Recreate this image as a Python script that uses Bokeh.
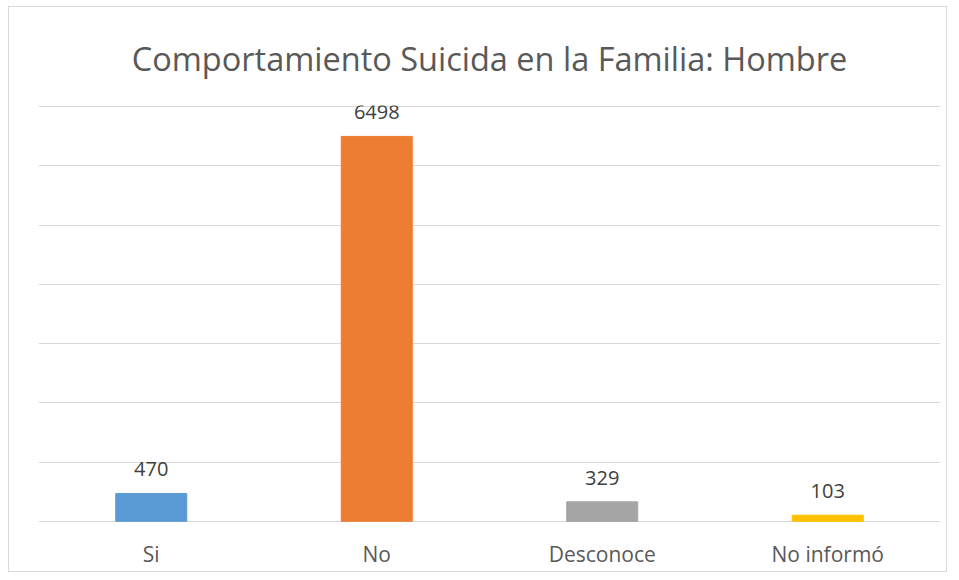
from bokeh.plotting import figure
from bokeh.models import ColumnDataSource, FactorRange, Range1d, LabelSet, SingleIntervalTicker
from bokeh.core.properties import value
from bokeh.embed import file_html
from bokeh.resources import INLINE

categories = ["Si", "No", "Desconoce", "No informó"]
values = [470, 6498, 329, 103]
colors = ["#5B9BD5", "#ED7D31", "#A5A5A5", "#FFC000"]
title_text = "Comportamiento Suicida en la Familia: Hombre"

FONT = "Open Sans"

src = ColumnDataSource(dict(cat=categories, val=values, color=colors,
                            lbl=[str(v) for v in values]))

p = figure(width=939, height=566, output_backend="svg", toolbar_location=None,
           x_range=FactorRange(*categories, range_padding=0),
           y_range=Range1d(-20, 7020),
           min_border_left=29, min_border_right=8, min_border_top=98, min_border_bottom=51)
p.styles = {"border": "1px solid #d9d9d9", "margin-left": "8px", "margin-top": "6px"}

p.title.text = title_text
p.title.align = "center"
p.title.text_font = FONT
p.title.text_font_size = "32.5px"
p.title.text_font_style = "normal"
p.title.text_color = "#595959"
p.title.standoff = 50

p.vbar(x="cat", top="val", width=0.315, color="color", source=src)

labels = LabelSet(x="cat", y="val", text="lbl", source=src, y_offset=17,
                  text_align="center", text_baseline="bottom",
                  text_font=value(FONT), text_font_size=value("20px"), text_color="#404040")
p.add_layout(labels)

p.outline_line_color = None
p.xgrid.visible = False
p.ygrid.ticker = SingleIntervalTicker(interval=1000)
p.ygrid.grid_line_color = "#d9d9d9"
p.ygrid.grid_line_width = 1
p.yaxis.visible = False

p.xaxis.axis_line_color = None
p.xaxis.major_tick_line_color = None
p.xaxis.minor_tick_line_color = None
p.xaxis.major_label_text_font = FONT
p.xaxis.major_label_text_font_size = "21px"
p.xaxis.major_label_text_color = "#595959"
p.xaxis.major_label_standoff = 11

open("out.html", "w").write(file_html(p, INLINE))
